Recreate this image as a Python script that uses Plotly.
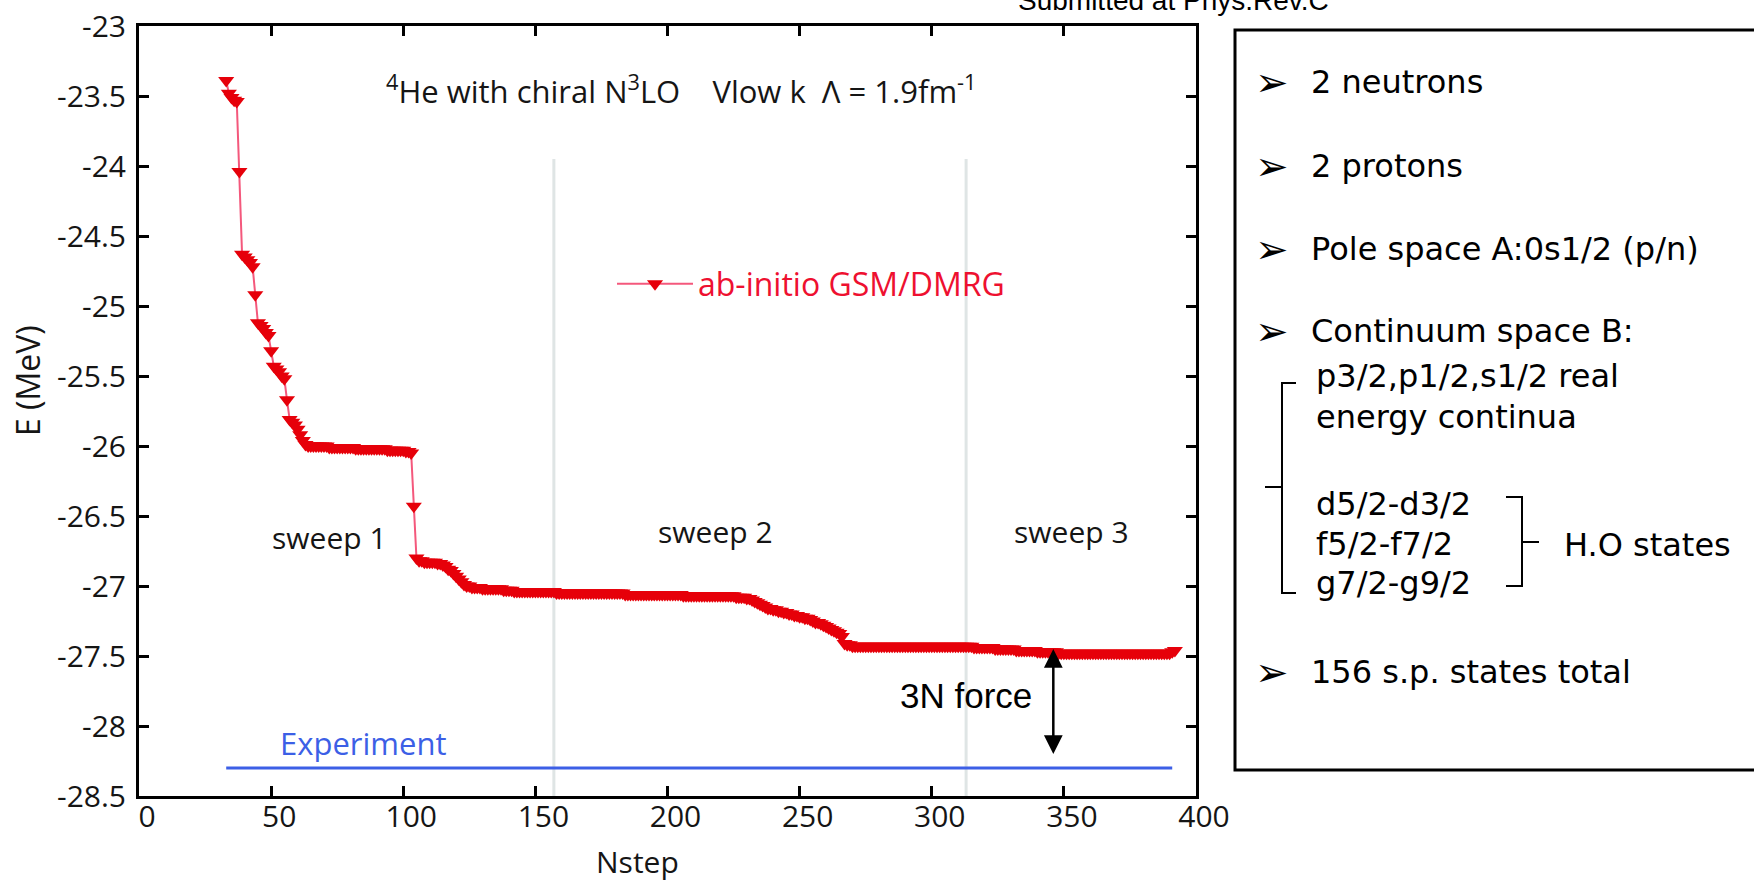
import plotly.graph_objects as go

# ---------------- data ----------------
nstep = list(range(33, 393))

energy = [
    # 33 .. 65
    -23.39, -23.48, -23.51, -23.53, -23.54, -24.04, -24.63, -24.65, -24.67, -24.69,
    -24.72, -24.92, -25.12, -25.14, -25.16, -25.19, -25.21, -25.32, -25.43, -25.45,
    -25.47, -25.50, -25.52, -25.67, -25.81, -25.83, -25.85, -25.88, -25.92, -25.96,
    -25.99, -26.00, -26.00,
    # 66 .. 103
    -26.00, -26.00, -26.00, -26.00, -26.00, -26.00, -26.01, -26.01, -26.01, -26.01,
    -26.01, -26.01, -26.01, -26.01, -26.01, -26.01, -26.02, -26.02, -26.02, -26.02,
    -26.02, -26.02, -26.02, -26.02, -26.02, -26.02, -26.02, -26.02, -26.03, -26.03,
    -26.03, -26.03, -26.03, -26.03, -26.03, -26.04, -26.04, -26.05,
    # 104 .. 127
    -26.43, -26.80, -26.82, -26.82, -26.83, -26.83, -26.83, -26.83, -26.83, -26.84,
    -26.84, -26.85, -26.86, -26.88, -26.89, -26.91, -26.93, -26.95, -26.97, -26.99,
    -27.00, -27.00, -27.01, -27.01,
    # 128 .. 229
    -27.01, -27.01, -27.02, -27.02, -27.02, -27.02, -27.02, -27.02, -27.02, -27.02,
    -27.03, -27.03, -27.03, -27.03, -27.04, -27.04, -27.04, -27.04, -27.04, -27.04,
    -27.04, -27.04, -27.04, -27.04, -27.04, -27.04, -27.04, -27.04, -27.04, -27.04,
    -27.05, -27.05, -27.05, -27.05, -27.05, -27.05, -27.05, -27.05, -27.05, -27.05,
    -27.05, -27.05, -27.05, -27.05, -27.05, -27.05, -27.05, -27.05, -27.05, -27.05,
    -27.05, -27.05, -27.05, -27.05, -27.05, -27.05, -27.06, -27.06, -27.06, -27.06,
    -27.06, -27.06, -27.06, -27.06, -27.06, -27.06, -27.06, -27.06, -27.06, -27.06,
    -27.06, -27.06, -27.06, -27.06, -27.06, -27.06, -27.06, -27.06, -27.07, -27.07,
    -27.07, -27.07, -27.07, -27.07, -27.07, -27.07, -27.07, -27.07, -27.07, -27.07,
    -27.07, -27.07, -27.07, -27.07, -27.07, -27.07, -27.07, -27.07, -27.08, -27.08,
    -27.08, -27.08,
    # 230 .. 271
    -27.09, -27.09, -27.10, -27.11, -27.12, -27.13, -27.14, -27.15, -27.16, -27.16,
    -27.17, -27.17, -27.18, -27.18, -27.19, -27.19, -27.20, -27.20, -27.21, -27.21,
    -27.22, -27.22, -27.23, -27.23, -27.24, -27.25, -27.26, -27.26, -27.27, -27.28,
    -27.29, -27.30, -27.31, -27.32, -27.33, -27.34, -27.36, -27.41, -27.42, -27.42,
    -27.43, -27.43,
    # 272 .. 392
    -27.43, -27.43, -27.43, -27.43, -27.43, -27.43, -27.43, -27.43, -27.43, -27.43,
    -27.43, -27.43, -27.43, -27.43, -27.43, -27.43, -27.43, -27.43, -27.43, -27.43,
    -27.43, -27.43, -27.43, -27.43, -27.43, -27.43, -27.43, -27.43, -27.43, -27.43,
    -27.43, -27.43, -27.43, -27.43, -27.43, -27.43, -27.43, -27.43, -27.43, -27.43,
    -27.43, -27.43, -27.43, -27.43, -27.44, -27.44, -27.44, -27.44, -27.44, -27.44,
    -27.44, -27.44, -27.45, -27.45, -27.45, -27.45, -27.45, -27.45, -27.45, -27.45,
    -27.46, -27.46, -27.46, -27.46, -27.46, -27.46, -27.46, -27.46, -27.47, -27.47,
    -27.47, -27.47, -27.47, -27.47, -27.47, -27.47, -27.48, -27.48, -27.48, -27.48,
    -27.48, -27.48, -27.48, -27.48, -27.48, -27.48, -27.48, -27.48, -27.48, -27.48,
    -27.48, -27.48, -27.48, -27.48, -27.48, -27.48, -27.48, -27.48, -27.48, -27.48,
    -27.48, -27.48, -27.48, -27.48, -27.48, -27.48, -27.48, -27.48, -27.48, -27.48,
    -27.48, -27.48, -27.48, -27.48, -27.48, -27.48, -27.48, -27.48, -27.48, -27.47,
    -27.46,
]

exp_x = [33, 391]
exp_energy = [-28.30, -28.30]

sweep_bounds = [157, 313]
sweep_top = -23.95
sweep_labels = ["sweep 1", "sweep 2", "sweep 3"]
sweep_label_x = [72, 218, 353]
sweep_label_y = [-26.65, -26.61, -26.61]

force_x = 346
force_top = -27.44
force_bottom = -28.20

x_ticks = [0, 50, 100, 150, 200, 250, 300, 350, 400]
y_ticks = [-28.5, -28, -27.5, -27, -26.5, -26, -25.5, -25, -24.5, -24, -23.5, -23]

box_items = ["2 neutrons", "2 protons", "Pole space A:0s1/2 (p/n)",
             "Continuum space B:", "156 s.p. states total"]
box_item_y = [82, 166, 249, 331, 672]
box_sub_a = ["p3/2,p1/2,s1/2 real", "energy continua"]
box_sub_a_y = [376, 417]
box_sub_b = ["d5/2-d3/2", "f5/2-f7/2", "g7/2-g9/2"]
box_sub_b_y = [504, 544, 583]

# ---------------- layout helpers ----------------
W, H = 1754, 881
L, R, T, B = 139, 558, 26, 85
PW, PH = W - L - R, H - T - B


def px(X):
    return (X - L) / PW


def py(Y):
    return 1 - (Y - T) / PH


FONT = "Open Sans"
RED = "#e6000a"
BLUE = "#3c5fe6"
TXT = "#151515"

fig = go.Figure()
fig.add_trace(go.Scatter(x=exp_x, y=exp_energy, mode="lines",
                         line=dict(color=BLUE, width=3), showlegend=False,
                         hoverinfo="skip"))
fig.add_trace(go.Scatter(x=nstep, y=energy, mode="lines+markers",
                         name="ab-initio GSM/DMRG",
                         line=dict(color="#f4587c", width=2),
                         marker=dict(symbol="triangle-down", size=14, color=RED,
                                     line=dict(width=0))))

for b in sweep_bounds:
    fig.add_shape(type="line", xref="x", yref="y", x0=b, x1=b, y0=-28.5, y1=sweep_top,
                  line=dict(color="#dfe5e5", width=3), layer="below")

ann = []


def text_ann(x, y, text, font, xref="x", yref="y", xanchor="center", yanchor="middle", **kw):
    d = dict(x=x, y=y, xref=xref, yref=yref, text=text, showarrow=False,
             xanchor=xanchor, yanchor=yanchor, font=font)
    d.update(kw)
    ann.append(d)


NB = "\u00a0"
text_ann(205, -23.45,
         "<sup>4</sup>He with chiral N<sup>3</sup>LO" + NB * 4 + "Vlow k" + NB * 2 +
         "\u039b = 1.9fm<sup>-1</sup>",
         dict(family=FONT, size=31, color=TXT))
for t, xx, yy in zip(sweep_labels, sweep_label_x, sweep_label_y):
    text_ann(xx, yy, t, dict(family=FONT, size=30, color=TXT))
text_ann(85, -28.12, "Experiment", dict(family=FONT, size=31, color=BLUE))
text_ann(313, -27.78, "3N force", dict(family="Liberation Sans", size=35, color="black"))
ann.append(dict(x=force_x, y=force_bottom, ax=force_x, ay=force_top, xref="x", yref="y",
                axref="x", ayref="y", text="", showarrow=True, arrowside="end+start",
                arrowhead=2, startarrowhead=2, arrowsize=1.5, startarrowsize=1.5,
                arrowwidth=2.5, arrowcolor="black"))
text_ann(px(27), py(381), "E (MeV)", dict(family=FONT, size=32, color=TXT),
         xref="paper", yref="paper", textangle=-90)
text_ann(px(637), py(862), "Nstep", dict(family=FONT, size=30, color=TXT),
         xref="paper", yref="paper")
text_ann(px(1331), py(1), "Submitted at Phys.Rev.C",
         dict(family="Liberation Sans", size=28, color="black"),
         xref="paper", yref="paper", xanchor="right")

BOXFONT = dict(family="DejaVu Sans", size=32, color="black")
for t, yy in zip(box_items, box_item_y):
    text_ann(px(1253), py(yy), "\u27a2", dict(family="DejaVu Sans", size=40, color="black"),
             xref="paper", yref="paper", xanchor="left")
    text_ann(px(1309), py(yy), t, BOXFONT, xref="paper", yref="paper", xanchor="left")
for t, yy in zip(box_sub_a + box_sub_b, box_sub_a_y + box_sub_b_y):
    text_ann(px(1314), py(yy), t, BOXFONT, xref="paper", yref="paper", xanchor="left")
text_ann(px(1562), py(545), "H.O states", BOXFONT, xref="paper", yref="paper",
         xanchor="left")


def ppath(cmds):
    return " ".join(f"{c}{px(X):.5f},{py(Y):.5f}" for c, X, Y in cmds)


fig.add_shape(type="rect", xref="paper", yref="paper", x0=px(1235), x1=px(1765),
              y0=py(770), y1=py(30), line=dict(color="black", width=3))
fig.add_shape(type="path", xref="paper", yref="paper",
              path=ppath([("M", 1296, 383), ("L", 1282, 383), ("L", 1282, 593),
                          ("L", 1296, 593), ("M", 1282, 487), ("L", 1265, 487)]),
              line=dict(color="black", width=2))
fig.add_shape(type="path", xref="paper", yref="paper",
              path=ppath([("M", 1506, 497), ("L", 1522, 497), ("L", 1522, 586),
                          ("L", 1506, 586), ("M", 1522, 542), ("L", 1539, 542)]),
              line=dict(color="black", width=2))

axis_common = dict(showline=True, linewidth=3, linecolor="black", mirror="ticks",
                   ticks="inside", ticklen=10, tickwidth=2.5, tickcolor="black",
                   showgrid=False, zeroline=False,
                   tickfont=dict(family=FONT, size=30, color=TXT))

fig.update_layout(
    width=W, height=H,
    margin=dict(l=L, r=R, t=T, b=B, autoexpand=False),
    paper_bgcolor="white", plot_bgcolor="white",
    xaxis=dict(range=[0, 400], tickvals=x_ticks, ticktext=[str(v) for v in x_ticks],
               ticklabelshift=8, ticklabelstandoff=-8, **axis_common),
    yaxis=dict(range=[-28.5, -23], tickvals=y_ticks, ticktext=[f"{v:g}" for v in y_ticks],
               ticklabelstandoff=4, **axis_common),
    showlegend=True,
    legend=dict(x=px(612), y=py(284), xanchor="left", yanchor="middle", itemwidth=76,
                bgcolor="rgba(0,0,0,0)", borderwidth=0,
                font=dict(family=FONT, size=32, color="#ee1030")),
    annotations=ann,
)

fig.write_html("out.html", config={"displayModeBar": False},
               post_script="document.body.style.margin='0px';")
